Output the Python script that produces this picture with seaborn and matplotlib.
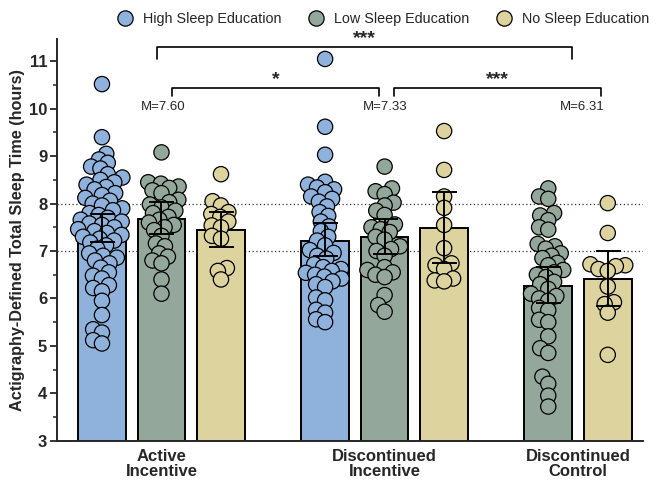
import numpy as np
import pandas as pd
import matplotlib.pyplot as plt
import seaborn as sns
from matplotlib.lines import Line2D
from matplotlib.ticker import MultipleLocator

# Categories
groups = ['Active\nIncentive', 'Discontinued\nIncentive', 'Discontinued\nControl']
education = ['High Sleep Education', 'Low Sleep Education', 'No Sleep Education']
colors = ['#8FB2DC', '#93A89A', '#DDD39E']

# Bars that exist (group index, education index), with mean and 95% CI
cell_group = [0, 0, 0, 1, 1, 1, 2, 2]
cell_edu = [0, 1, 2, 0, 1, 2, 1, 2]
bar_mean = [7.48, 7.68, 7.45, 7.22, 7.29, 7.48, 6.26, 6.41]
ci_low = [7.20, 7.35, 7.08, 6.90, 6.93, 6.74, 5.90, 5.84]
ci_high = [7.78, 8.03, 7.83, 7.60, 7.68, 8.25, 6.67, 7.01]
group_means = [7.60, 7.33, 6.31]

# Individual participants (hours)
active_high = [10.52, 9.40, 9.05, 8.93, 8.86, 8.78, 8.74, 8.62, 8.55, 8.50, 8.45, 8.40,
               8.35, 8.30, 8.22, 8.18, 8.12, 8.06, 8.00, 7.96, 7.90, 7.86, 7.80, 7.76,
               7.70, 7.66, 7.62, 7.58, 7.55, 7.50, 7.46, 7.42, 7.38, 7.34, 7.30, 7.26,
               7.22, 7.18, 7.12, 7.05, 6.95, 6.90, 6.86, 6.80, 6.74, 6.65, 6.55, 6.48,
               6.42, 6.28, 6.22, 6.15, 5.95, 5.65, 5.35, 5.28, 5.12, 5.05]
active_low = [9.08, 8.45, 8.42, 8.36, 8.33, 8.28, 8.22, 8.08, 8.03, 7.98, 7.92, 7.85,
              7.80, 7.72, 7.66, 7.60, 7.55, 7.50, 7.44, 7.32, 7.16, 7.10, 6.95, 6.88,
              6.80, 6.74, 6.40, 6.10]
active_none = [8.62, 8.05, 7.96, 7.82, 7.78, 7.72, 7.62, 7.54, 7.50, 7.32, 7.26, 6.64,
               6.58, 6.40]
disc_high = [11.05, 9.62, 9.03, 8.46, 8.40, 8.34, 8.30, 8.24, 8.15, 8.10, 8.04, 7.94,
             7.82, 7.74, 7.62, 7.52, 7.42, 7.30, 7.22, 7.12, 7.02, 6.96, 6.90, 6.84,
             6.72, 6.66, 6.62, 6.58, 6.54, 6.50, 6.46, 6.42, 6.36, 6.30, 6.24, 6.02,
             5.96, 5.76, 5.70, 5.56, 5.50]
disc_low = [8.78, 8.32, 8.26, 8.20, 8.02, 7.96, 7.85, 7.76, 7.56, 7.50, 7.46, 7.40,
            7.30, 7.24, 7.10, 7.04, 7.00, 6.90, 6.66, 6.60, 6.55, 6.50, 6.45, 6.07,
            5.86, 5.72]
disc_none = [9.53, 8.71, 8.15, 7.91, 7.55, 7.06, 6.74, 6.70, 6.62, 6.42, 6.38, 6.36]
ctrl_low = [8.32, 8.15, 8.10, 7.80, 7.75, 7.65, 7.50, 7.45, 7.15, 7.10, 7.05, 6.95,
            6.90, 6.85, 6.75, 6.70, 6.60, 6.55, 6.50, 6.45, 6.35, 6.30, 6.20, 6.10,
            6.05, 6.00, 5.95, 5.80, 5.75, 5.55, 5.50, 5.20, 4.95, 4.85, 4.35, 4.20,
            3.95, 3.72]
ctrl_none = [8.01, 7.38, 6.72, 6.70, 6.68, 6.62, 6.58, 6.25, 5.92, 5.88, 5.70, 4.81]
cell_points = [active_high, active_low, active_none, disc_high, disc_low, disc_none,
               ctrl_low, ctrl_none]

# Significance comparisons: (from group, to group, label)
comparisons = [(0, 1, '*'), (1, 2, '***'), (0, 2, '***')]

# ---- layout ----
GROUP_STEP = 3.75
slot = [cell_group[:i].count(g) for i, g in enumerate(cell_group)]
pos = [GROUP_STEP * g + s for g, s in zip(cell_group, slot)]
centers = [np.mean([p for p, g in zip(pos, cell_group) if g == k]) for k in range(len(groups))]

bars = pd.DataFrame({'pos': pos, 'mean': bar_mean,
                     'edu': [education[e] for e in cell_edu]})
pts = pd.DataFrame([(p, education[e], v)
                    for p, e, vals in zip(pos, cell_edu, cell_points) for v in vals],
                   columns=['pos', 'edu', 'hours'])
palette = dict(zip(education, colors))

sns.set_theme(style='ticks')
plt.rcParams['font.family'] = ['Liberation Sans', 'DejaVu Sans']

fig = plt.figure(figsize=(6.58, 4.82), dpi=100)
ax = fig.add_axes([0.0866, 0.0857, 0.8904, 0.8333])

for yv in (7, 8):
    ax.axhline(yv, color='#333333', lw=0.9, ls=(0, (1, 2)), zorder=0.5)

sns.barplot(data=bars, x='pos', y='mean', hue='edu', palette=palette, native_scale=True,
            dodge=False, errorbar=None, width=0.8, saturation=1, edgecolor='black',
            linewidth=1.4, legend=False, ax=ax, zorder=1)

before = set(ax.collections)
sns.swarmplot(data=pts, x='pos', y='hours', hue='edu', palette=palette, native_scale=True,
              dodge=False, orient='x', size=5.6, edgecolor='black', linewidth=0.9,
              legend=False, ax=ax, zorder=3, warn_thresh=1)
swarms = [c for c in ax.collections if c not in before]

ax.set_xlim(-0.756, 9.09)
ax.set_ylim(3, 11.47)

# compute the swarm layout, then draw the markers larger so they overlap
fig.canvas.draw()
for c in swarms:
    c.__dict__.pop('draw', None)
    c.set_sizes([11 ** 2])

ax.errorbar(pos, bar_mean,
            yerr=[np.subtract(bar_mean, ci_low), np.subtract(ci_high, bar_mean)],
            fmt='none', ecolor='black', elinewidth=1.4, capsize=9, capthick=1.4, zorder=4)

# axes styling
ax.yaxis.set_major_locator(MultipleLocator(1))
ax.yaxis.set_minor_locator(MultipleLocator(0.5))
ax.tick_params(axis='y', which='major', length=5, width=1.3, labelsize=12, pad=2)
ax.tick_params(axis='y', which='minor', length=3, width=1.1)
for lab in ax.get_yticklabels():
    lab.set_fontweight('bold')
ax.set_xticks(centers)
ax.set_xticklabels(groups, fontsize=12, fontweight='bold', linespacing=1.0)
ax.tick_params(axis='x', length=0, pad=6)
ax.set_xlabel('')
ax.set_ylabel('Actigraphy-Defined Total Sleep Time (hours)', fontsize=11.7,
              fontweight='bold', labelpad=3)
sns.despine(ax=ax)
for sp in ('left', 'bottom'):
    ax.spines[sp].set_linewidth(1.4)

# group means
m_offsets = [0.03, 0.01, 0.07]
for c, m, o in zip(centers, group_means, m_offsets):
    ax.text(c + o, 10.04, f'M={m:.2f}', ha='center', va='center', fontsize=9.5)

# significance brackets
bracket_ends = {(0, 1): (0.17, -0.09), (1, 2): (0.15, 0.39), (0, 2): (-0.08, -0.10)}
bracket_y = {(0, 1): (10.44, 0.17), (1, 2): (10.44, 0.17), (0, 2): (11.3, 0.26)}
for g1, g2, label in comparisons:
    o1, o2 = bracket_ends[(g1, g2)]
    x1, x2 = centers[g1] + o1, centers[g2] + o2
    y, drop = bracket_y[(g1, g2)]
    ax.plot([x1, x1, x2, x2], [y - drop, y, y, y - drop], color='black', lw=1.2,
            clip_on=False, zorder=5)
    ax.text((x1 + x2) / 2, y + 0.0, label, ha='center', va='bottom', fontsize=14,
            fontweight='bold')

handles = [Line2D([], [], ls='', marker='o', markersize=11, markerfacecolor=c,
                  markeredgecolor='black', markeredgewidth=0.9) for c in colors]
fig.legend(handles, education, loc='center', bbox_to_anchor=(0.583, 0.96), ncol=3,
           frameon=False, fontsize=10.4, handlelength=1.0, handletextpad=0.75,
           columnspacing=1.9)

fig.savefig('out.png', dpi=100)
